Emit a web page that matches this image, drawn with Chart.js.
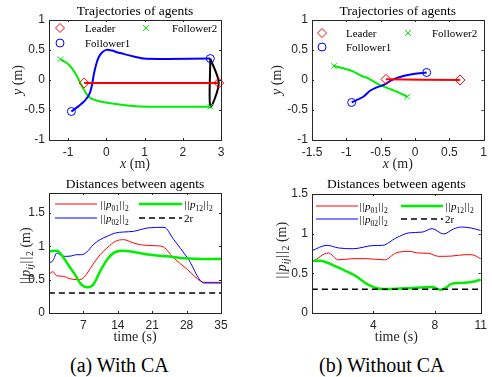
<!DOCTYPE html>
<html>
<head>
<meta charset="utf-8">
<script src="https://cdn.jsdelivr.net/npm/chart.js@4.4.0/dist/chart.umd.min.js"></script>
<style>
  body { margin: 0; background: #fff; width: 492px; height: 377px; position: relative; overflow: hidden; }
  canvas { position: absolute; }
  .cap { position: absolute; font-family: "Liberation Serif", "Times New Roman", serif; font-size: 20px; line-height: 20px; color: #000; white-space: pre; }
</style>
</head>
<body>
<canvas id="trajA" width="246" height="180" style="left:0;top:0"></canvas>
<canvas id="trajB" width="246" height="180" style="left:246px;top:0"></canvas>
<canvas id="distA" width="246" height="175" style="left:0;top:175px"></canvas>
<canvas id="distB" width="246" height="175" style="left:246px;top:175px"></canvas>
<div class="cap" style="left:70px;top:355px">(a) With CA</div>
<div class="cap" style="left:319px;top:355px">(b) Without CA</div>
<script>
// ---- (a) with CA: trajectories (m)
var leadAx = [-0.58, 2.94];
var leadAy = [-0.05, -0.05];
var fol1Ax = [-0.915, -0.724, -0.549, -0.436, -0.375, -0.331, -0.27, -0.2, -0.113, 0, 0.148, 0.279, 0.453, 0.715, 0.976, 1.587, 2.72];
var fol1Ay = [-0.525, -0.435, -0.335, -0.223, -0.084, 0.084, 0.251, 0.379, 0.458, 0.502, 0.491, 0.463, 0.435, 0.391, 0.357, 0.352, 0.357];
var fol2Ax = [-1.203, -1.029, -0.898, -0.785, -0.697, -0.593, -0.462, -0.288, 0.017, 0.541, 1.151, 2.72];
var fol2Ay = [0.346, 0.279, 0.195, 0.084, -0.028, -0.156, -0.279, -0.335, -0.379, -0.424, -0.446, -0.446];
var formAx = [2.72, 2.72, 2.94, 2.72];
var formAy = [0.357, -0.446, -0.05, 0.357];

// ---- (b) without CA: trajectories (m)
var leadBx = [-0.422, 0.655];
var leadBy = [0.011, 0.0];
var fol1Bx = [-0.922, -0.85, -0.752, -0.655, -0.558, -0.461, -0.316, -0.17, -0.024, 0.17];
var fol1By = [-0.374, -0.335, -0.279, -0.179, -0.123, -0.084, 0.011, 0.067, 0.1, 0.125];
var fol2Bx = [-1.18, -1.044, -0.898, -0.777, -0.68, -0.558, -0.413, -0.267, -0.112];
var fol2By = [0.234, 0.195, 0.14, 0.067, 0.028, -0.056, -0.128, -0.195, -0.279];

// ---- (a) distances between agents vs time (s)
var tA01 = [0, 0.8, 1.5, 2.9, 4.2, 6, 7, 7.8, 9, 10.4, 11.8, 13.5, 15.2, 17.2, 18.6, 20, 21.3, 23, 25.4, 28.2, 30.9, 31.7, 35];
var dA01 = [0.58, 0.62, 0.56, 0.55, 0.515, 0.5, 0.525, 0.6, 0.735, 0.875, 0.975, 1.075, 1.1, 1.05, 1.025, 1.015, 1.01, 1.0, 0.825, 0.65, 0.475, 0.46, 0.46];
var tA02 = [0, 0.8, 1.6, 2.2, 3.2, 4.5, 5.6, 6.6, 7.7, 9, 10.4, 11.8, 13.5, 15.2, 17.2, 18.6, 20, 23.4, 25.4, 28.2, 31.6, 35];
var dA02 = [0.75, 0.785, 0.9, 0.875, 0.85, 0.855, 0.875, 0.875, 0.915, 1.025, 1.1, 1.15, 1.2, 1.215, 1.225, 1.25, 1.275, 1.285, 1.1, 0.825, 0.45, 0.45];
var tA12 = [0, 1.6, 2.5, 3.9, 5.3, 6.6, 7.8, 9, 10.4, 11.8, 13.5, 15.2, 17.2, 20.6, 24, 26.8, 29.5, 35];
var dA12 = [0.925, 0.935, 0.875, 0.725, 0.575, 0.425, 0.385, 0.425, 0.625, 0.8, 0.915, 0.935, 0.915, 0.875, 0.85, 0.825, 0.815, 0.81];

// ---- (b) distances between agents vs time (s)
var tB01 = [0, 1.07, 1.72, 2.68, 3.54, 4.72, 5.47, 6.33, 6.97, 7.6, 8.26, 9.12, 9.98, 10.4, 11];
var dB01 = [0.64, 0.756, 0.67, 0.685, 0.685, 0.67, 0.756, 0.777, 0.756, 0.752, 0.714, 0.718, 0.735, 0.735, 0.685];
var tB02 = [0, 0.97, 1.72, 2.68, 3.97, 4.6, 5.47, 6.33, 7.19, 7.83, 8.58, 9.23, 9.76, 10.4, 11];
var dB02 = [0.786, 0.853, 0.82, 0.81, 0.85, 0.853, 0.945, 1.01, 1.02, 1.063, 0.996, 1.06, 1.084, 1.07, 1.04];
var tB12 = [0, 0.54, 1.4, 2.25, 2.9, 3.65, 4.4, 5.04, 6.55, 7.83, 8.37, 8.7, 9.12, 9.76, 10.4, 11];
var dB12 = [0.66, 0.66, 0.6, 0.525, 0.46, 0.357, 0.307, 0.303, 0.315, 0.328, 0.294, 0.315, 0.37, 0.378, 0.39, 0.42];

var twoR = 0.3;

// ---- axes
var trajYTicks = [-1, -0.5, 0, 0.5, 1];
var trajAXTicks = [-1, 0, 1, 2, 3];
var trajBXTicks = [-1.5, -1, -0.5, 0, 0.5, 1];
var distAXTicks = [7, 14, 21, 28, 35];
var distBXTicks = [4, 8, 11];
var distYTicks = [0, 0.5, 1, 1.5];

var SERIF = '"Liberation Serif", "Times New Roman", serif';
var SANS = '"Liberation Sans", Arial, Helvetica, sans-serif';
var AXIS = "#262626";
var RED = "#ff0000", BLUE = "#0000ff", GREEN = "#00ee00";

function pts(xs, ys) {
  var out = [];
  for (var i = 0; i < xs.length; i++) out.push({ x: xs[i], y: ys[i] });
  return out;
}
function ends(xs, ys) {
  var n = xs.length - 1;
  return [{ x: xs[0], y: ys[0] }, { x: xs[n], y: ys[n] }];
}
function lineSet(data, color, width, order, dash, smooth) {
  return {
    data: data, borderColor: color, backgroundColor: color, borderWidth: width,
    borderDash: dash || [], showLine: true, pointRadius: 0, order: order,
    tension: smooth === "mono" ? 0 : 0.3,
    cubicInterpolationMode: smooth === "mono" ? "monotone" : "default"
  };
}
function markSet(data, color, style, radius, order) {
  return {
    data: data, showLine: false, pointStyle: style, pointRadius: radius,
    pointBorderColor: color, pointBackgroundColor: "rgba(0,0,0,0)", pointBorderWidth: 1,
    borderColor: color, backgroundColor: "rgba(0,0,0,0)", clip: false, order: order
  };
}

// rich text pieces (LaTeX-ish labels); w = fixed advance for the norm bars
function R(t, s, w) { return { t: t, f: s + "px " + SERIF, w: w }; }
function I(t, s) { return { t: t, f: "italic " + s + "px " + SERIF }; }
function S(t, s, dy, it) { return { t: t, f: (it ? "italic " : "") + s + "px " + SERIF, dy: dy }; }
function bars(s, w) { return [R("|", s, w), R("|", s, w)]; }
function normLabel(ij) {
  return [].concat(bars(11, 3), [I("p", 11), S(ij, 7.5, 2.5)], bars(11, 3), [S("2", 7.5, 2.5)]);
}
function normAxis() {
  return [].concat(bars(14, 4), [I("p", 14), S("ij", 10, 3, true)], bars(14, 4), [S("2", 10, 3), R(" (m)", 14)]);
}

function adv(ctx, p) { ctx.font = p.f; return p.w || ctx.measureText(p.t).width; }
function drawRich(ctx, parts, x, y, center) {
  var total = 0;
  parts.forEach(function(p) { total += adv(ctx, p); });
  var cx = center ? x - total / 2 : x;
  ctx.textBaseline = "alphabetic";
  parts.forEach(function(p) {
    var a = adv(ctx, p);
    if (p.w) { ctx.textAlign = "center"; ctx.fillText(p.t, cx + a / 2, y + (p.dy || 0)); }
    else { ctx.textAlign = "left"; ctx.fillText(p.t, cx, y + (p.dy || 0)); }
    cx += a;
  });
}

// titles, axis labels and legends, per canvas
var deco = {
  trajA: {
    title: "Trajectories of agents", titleY: 15,
    xlabel: [I("x", 14), R(" (m)", 14)], xlabelY: 168,
    ylabel: [I("y", 14), R(" (m)", 14)], ylabelX: 22, ylabelDy: 0,
    legend: [
      { mark: "diamond", color: RED, x: 60, y: 28, tx: 85, text: [R("Leader", 11)] },
      { mark: "cross", color: GREEN, x: 146, y: 28, tx: 172, text: [R("Follower2", 11)] },
      { mark: "circle", color: BLUE, x: 60, y: 43, tx: 85, text: [R("Follower1", 11)] }
    ]
  },
  trajB: {
    title: "Trajectories of agents", titleY: 15,
    xlabel: [I("x", 14), R(" (m)", 14)], xlabelY: 168,
    ylabel: [I("y", 14), R(" (m)", 14)], ylabelX: 35, ylabelDy: 0,
    legend: [
      { mark: "diamond", color: RED, x: 76, y: 33, tx: 100, text: [R("Leader", 11)] },
      { mark: "cross", color: GREEN, x: 162, y: 33, tx: 186, text: [R("Follower2", 11)] },
      { mark: "circle", color: BLUE, x: 76, y: 47, tx: 100, text: [R("Follower1", 11)] }
    ]
  },
  distA: {
    title: "Distances between agents", titleY: 13,
    xlabel: [R("time (s)", 14)], xlabelY: 166,
    ylabel: normAxis(), ylabelX: 30, ylabelDy: 3,
    legend: [
      { line: RED, w: 1, x1: 55, x2: 97, y: 29, tx: 100, text: normLabel("01") },
      { line: GREEN, w: 2.5, x1: 139, x2: 182, y: 29, tx: 184, text: normLabel("12") },
      { line: BLUE, w: 1, x1: 55, x2: 97, y: 43, tx: 100, text: normLabel("02") },
      { line: "#000", w: 1.5, dash: [6, 4], x1: 139, x2: 182, y: 43, tx: 184, text: [R("2r", 11)] }
    ]
  },
  distB: {
    title: "Distances between agents", titleY: 13,
    xlabel: [R("time (s)", 14)], xlabelY: 166,
    ylabel: normAxis(), ylabelX: 40, ylabelDy: -3,
    legend: [
      { line: RED, w: 1, x1: 70, x2: 112, y: 31, tx: 113, text: normLabel("01") },
      { line: GREEN, w: 2.5, x1: 155, x2: 197, y: 31, tx: 199, text: normLabel("12") },
      { line: BLUE, w: 1, x1: 70, x2: 112, y: 44, tx: 113, text: normLabel("02") },
      { line: "#000", w: 1.5, dash: [6, 4], x1: 155, x2: 197, y: 44, tx: 199, text: [R("2r", 11)] }
    ]
  }
};

function drawMark(ctx, kind, color, x, y) {
  ctx.save();
  ctx.strokeStyle = color;
  ctx.lineWidth = 1;
  ctx.beginPath();
  if (kind === "diamond") {
    ctx.moveTo(x, y - 4.5); ctx.lineTo(x + 4.5, y); ctx.lineTo(x, y + 4.5); ctx.lineTo(x - 4.5, y); ctx.closePath();
  } else if (kind === "circle") {
    ctx.arc(x, y, 4, 0, Math.PI * 2);
  } else {
    ctx.moveTo(x - 3, y - 3); ctx.lineTo(x + 3, y + 3); ctx.moveTo(x + 3, y - 3); ctx.lineTo(x - 3, y + 3);
  }
  ctx.stroke();
  ctx.restore();
}

// MATLAB style box with inward ticks, then the texts
var framePlugin = {
  id: "frame",
  afterDatasetsDraw: function(chart) {
    var ctx = chart.ctx, a = chart.chartArea;
    var sx = chart.scales.x, sy = chart.scales.y;
    ctx.save();
    ctx.strokeStyle = AXIS;
    ctx.lineWidth = 1;
    ctx.strokeRect(Math.round(a.left) + 0.5, Math.round(a.top) + 0.5, Math.round(a.right - a.left), Math.round(a.bottom - a.top));
    ctx.beginPath();
    sx.ticks.forEach(function(t) {
      var px = Math.round(sx.getPixelForValue(t.value)) + 0.5;
      ctx.moveTo(px, a.bottom); ctx.lineTo(px, a.bottom - 2);
      ctx.moveTo(px, a.top); ctx.lineTo(px, a.top + 2);
    });
    sy.ticks.forEach(function(t) {
      var py = Math.round(sy.getPixelForValue(t.value)) + 0.5;
      ctx.moveTo(a.left, py); ctx.lineTo(a.left + 2, py);
      ctx.moveTo(a.right, py); ctx.lineTo(a.right - 2, py);
    });
    ctx.stroke();
    ctx.restore();
  },
  afterDraw: function(chart) {
    var d = deco[chart.canvas.id];
    if (!d) return;
    var ctx = chart.ctx, a = chart.chartArea;
    var cx = (a.left + a.right) / 2, cy = (a.top + a.bottom) / 2;
    ctx.save();
    ctx.fillStyle = "#000";
    drawRich(ctx, [R(d.title, 13.5)], cx, d.titleY, true);
    ctx.fillStyle = AXIS;
    drawRich(ctx, d.xlabel, cx, d.xlabelY, true);
    ctx.save();
    ctx.translate(d.ylabelX, cy + d.ylabelDy);
    ctx.rotate(-Math.PI / 2);
    drawRich(ctx, d.ylabel, 0, 0, true);
    ctx.restore();
    ctx.fillStyle = "#000";
    d.legend.forEach(function(it) {
      if (it.mark) {
        drawMark(ctx, it.mark, it.color, it.x, it.y);
      } else {
        ctx.save();
        ctx.strokeStyle = it.line;
        ctx.lineWidth = it.w;
        ctx.setLineDash(it.dash || []);
        ctx.beginPath();
        ctx.moveTo(it.x1, it.y); ctx.lineTo(it.x2, it.y);
        ctx.stroke();
        ctx.restore();
      }
      drawRich(ctx, it.text, it.tx, it.y + 4, false);
    });
    ctx.restore();
  }
};

function makeChart(id, box, xr, yr, xTicks, yTicks, datasets) {
  var canvas = document.getElementById(id);
  var W = canvas.width, H = canvas.height;
  function axis(range, ticks, isX) {
    return {
      type: "linear", min: range[0], max: range[1],
      grid: { display: false, drawTicks: false }, border: { display: false },
      afterBuildTicks: function(s) { s.ticks = ticks.map(function(v) { return { value: v }; }); },
      afterFit: function(s) { if (isX) s.height = H - box.bottom; else s.width = box.left; },
      ticks: {
        color: AXIS, padding: isX ? 5 : 4, maxRotation: 0, autoSkip: false,
        font: { family: SANS, size: 12 },
        callback: function(v) { return String(v); }
      }
    };
  }
  return new Chart(canvas, {
    type: "scatter",
    data: { datasets: datasets },
    options: {
      responsive: false, animation: false,
      layout: { padding: { left: 0, top: box.top, right: W - box.right, bottom: 0 } },
      plugins: { legend: { display: false }, tooltip: { enabled: false } },
      scales: { x: axis(xr, xTicks, true), y: axis(yr, yTicks, false) }
    },
    plugins: [framePlugin]
  });
}

makeChart("trajA", { left: 49, right: 221, top: 20, bottom: 140 }, [-1.5, 3], [-1, 1], trajAXTicks, trajYTicks, [
  lineSet(pts(formAx, formAy), "#000", 2, 5),
  lineSet(pts(fol2Ax, fol2Ay), GREEN, 2, 4),
  lineSet(pts(fol1Ax, fol1Ay), BLUE, 2, 3),
  lineSet(pts(leadAx, leadAy), RED, 2, 2),
  markSet(ends(leadAx, leadAy), RED, "rectRot", 5, 1),
  markSet(ends(fol1Ax, fol1Ay), BLUE, "circle", 4, 1),
  markSet(ends(fol2Ax, fol2Ay), GREEN, "crossRot", 4, 1)
]);

makeChart("trajB", { left: 66, right: 238, top: 20, bottom: 140 }, [-1.5, 1], [-1, 1], trajBXTicks, trajYTicks, [
  lineSet(pts(fol2Bx, fol2By), GREEN, 2, 4),
  lineSet(pts(fol1Bx, fol1By), BLUE, 2, 3),
  lineSet(pts(leadBx, leadBy), RED, 2, 2),
  markSet(ends(leadBx, leadBy), RED, "rectRot", 5, 1),
  markSet(ends(fol1Bx, fol1By), BLUE, "circle", 4, 1),
  markSet(ends(fol2Bx, fol2By), GREEN, "crossRot", 4, 1)
]);

makeChart("distA", { left: 49, right: 221, top: 18, bottom: 138 }, [0, 35], [0, 1.8], distAXTicks, distYTicks, [
  lineSet(pts([0, 35], [twoR, twoR]), "#000", 1.5, 1, [6, 4]),
  lineSet(pts(tA12, dA12), GREEN, 2.5, 2, null, "mono"),
  lineSet(pts(tA02, dA02), BLUE, 1, 3, null, "mono"),
  lineSet(pts(tA01, dA01), RED, 1, 4, null, "mono")
]);

makeChart("distB", { left: 66, right: 238, top: 19, bottom: 138 }, [0, 11], [0, 1.5], distBXTicks, distYTicks, [
  lineSet(pts([0, 11], [twoR, twoR]), "#000", 1.5, 1, [6, 4]),
  lineSet(pts(tB12, dB12), GREEN, 2.5, 2, null, "mono"),
  lineSet(pts(tB02, dB02), BLUE, 1, 3, null, "mono"),
  lineSet(pts(tB01, dB01), RED, 1, 4, null, "mono")
]);
</script>
</body>
</html>
